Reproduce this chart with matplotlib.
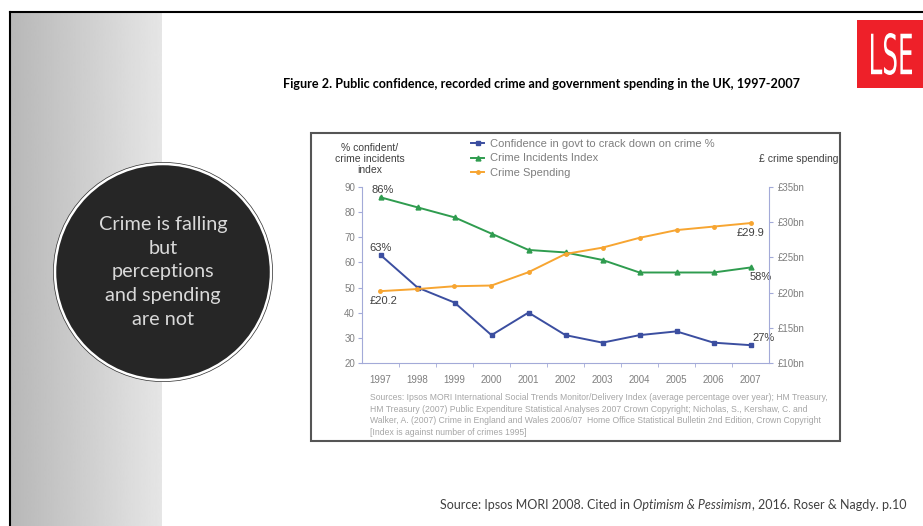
import matplotlib.pyplot as plt
import numpy as np
from matplotlib.patches import Rectangle, Circle, PathPatch
from matplotlib.textpath import TextPath
from matplotlib.font_manager import FontProperties
from matplotlib.transforms import Affine2D

plt.rcParams['font.family'] = 'Liberation Sans'

# data
years = ['1997', '1998', '1999', '2000', '2001', '2002', '2003', '2004', '2005', '2006', '2007']
confidence = [63, 50, 44, 31, 40, 31, 28, 31, 32.5, 28, 27]
crime_index = [86, 82, 78, 71.5, 65, 64, 61, 56, 56, 56, 58]
spending = [20.2, 20.5, 20.9, 21.0, 22.9, 25.5, 26.4, 27.8, 28.9, 29.4, 29.9]
left_ticks = [20, 30, 40, 50, 60, 70, 80, 90]
right_ticks = [10, 15, 20, 25, 30, 35]
right_tick_labels = ['£10bn', '£15bn', '£20bn', '£25bn', '£30bn', '£35bn']
series_names = ['Confidence in govt to crack down on crime %', 'Crime Incidents Index', 'Crime Spending']

title = 'Figure 2. Public confidence, recorded crime and government spending in the UK, 1997-2007'
sources = ('Sources: Ipsos MORI International Social Trends Monitor/Delivery Index (average percentage over year); HM Treasury,\n'
           'HM Treasury (2007) Public Expenditure Statistical Analyses 2007 Crown Copyright; Nicholas, S., Kershaw, C. and\n'
           'Walker, A. (2007) Crime in England and Wales 2006/07  Home Office Statistical Bulletin 2nd Edition, Crown Copyright\n'
           '[Index is against number of crimes 1995]')

blue = '#3b4ea0'
green = '#2f9c4f'
orange = '#f7a531'
axis_col = '#a3aad8'
grey_txt = '#7f7f7f'
dark_txt = '#404040'

W, H = 923, 526
fig = plt.figure(figsize=(W / 100, H / 100), dpi=100)

# slide background, drawn in pixel coordinates
bg = fig.add_axes([0, 0, 1, 1])
grad = np.linspace(0.72, 0.90, 256).reshape(1, -1)
bg.imshow(grad, cmap='gray', vmin=0, vmax=1, extent=[11, 162, H, 13], aspect='auto')
bg.plot([10, W], [12, 12], color='black', lw=1.5)
bg.plot([10, 10], [12, H], color='black', lw=1.5)

# round callout
bg.add_patch(Circle((163, 272), 110, facecolor='#3a3a3a', edgecolor='none'))
bg.add_patch(Circle((163, 272), 108, facecolor='#262626', edgecolor='white', lw=1.8))
bg.text(163, 272, 'Crime is falling\nbut\nperceptions\nand spending\nare not', ha='center', va='center',
        color='#d9d9d9', fontsize=14.3, family='Lato', linespacing=1.47)

# LSE logo
bg.add_patch(Rectangle((857, 20), 66, 68, facecolor='#ee2029', edgecolor='none'))
tp = TextPath((0, 0), 'LSE', size=10, prop=FontProperties(family='DejaVu Sans'))
ext = tp.get_extents()
tr = Affine2D().translate(-ext.x0, -ext.y0).scale(41 / ext.width, -42 / ext.height).translate(871, 75)
bg.add_patch(PathPatch(tr.transform_path(tp), facecolor='white', edgecolor='none'))

bg.text(541, 84, title, ha='center', va='center', fontsize=9.1, fontweight='bold', family='Lato', color='black')

# source line with italic book title
renderer = fig.canvas.get_renderer()
xpos = 440
for part, style in [('Source: Ipsos MORI 2008. Cited in ', 'normal'),
                    ('Optimism & Pessimism', 'italic'),
                    (', 2016. Roser & Nagdy. p.10', 'normal')]:
    t = bg.text(xpos, 505, part, fontsize=9, family='Lato', style=style, color=dark_txt, va='center')
    xpos += t.get_window_extent(renderer).width

# chart frame
bg.add_patch(Rectangle((311, 133), 529, 308, facecolor='white', edgecolor='#555555', lw=1.5))
bg.text(370, 159, '% confident/\ncrime incidents\nindex', ha='center', va='center', fontsize=7.5,
        color=dark_txt, linespacing=1.1)
bg.text(799, 159, '£ crime spending', ha='center', va='center', fontsize=7.5, color=dark_txt)
bg.text(370, 393, sources, ha='left', va='top', fontsize=6.25, color='#a6a6a6', linespacing=1.39)

bg.set_xlim(0, W)
bg.set_ylim(H, 0)
bg.axis('off')

# the chart itself
ax = fig.add_axes([362 / W, 1 - 362.7 / H, (769 - 362) / W, (362.7 - 187.3) / H])
ax.patch.set_alpha(0)
x = np.arange(len(years))
l1, = ax.plot(x, confidence, color=blue, marker='s', ms=3.5, lw=1.4, label=series_names[0])
l2, = ax.plot(x, crime_index, color=green, marker='^', ms=3.5, lw=1.4, label=series_names[1])
ax2 = ax.twinx()
l3, = ax2.plot(x, spending, color=orange, marker='o', ms=2.5, lw=1.4, label=series_names[2])

ax.set_xlim(-0.5, 10.5)
ax.set_ylim(20, 90)
ax2.set_ylim(10, 35)

for s in ['top', 'right']:
    ax.spines[s].set_visible(False)
for s in ['left', 'bottom']:
    ax.spines[s].set_color(axis_col)
for s in ['top', 'left', 'bottom']:
    ax2.spines[s].set_visible(False)
ax2.spines['right'].set_color(axis_col)

ax.set_xticks(x, years)
ax.set_xticks(x[:-1] + 0.5, minor=True)
ax.tick_params(axis='x', which='major', length=0, labelsize=7, labelcolor=grey_txt, pad=9)
ax.tick_params(axis='x', which='minor', length=3, color=axis_col)
ax.set_yticks(left_ticks)
ax.tick_params(axis='y', length=3, color=axis_col, labelsize=7, labelcolor=grey_txt, pad=2)
ax2.set_yticks(right_ticks, right_tick_labels)
ax2.tick_params(axis='y', length=3, color=axis_col, labelsize=7, labelcolor=grey_txt, pad=3)

# value labels at the ends
kw = dict(textcoords='offset pixels', ha='center', va='center', fontsize=8, color=dark_txt)
ax.annotate('86%', (0, crime_index[0]), xytext=(2, 7), **kw)
ax.annotate('63%', (0, confidence[0]), xytext=(0, 7), **kw)
ax2.annotate('£20.2', (0, spending[0]), xytext=(3, -9.5), **kw)
ax2.annotate('£29.9', (10, spending[-1]), xytext=(0, -10), **kw)
ax.annotate('58%', (10, crime_index[-1]), xytext=(10, -10), **kw)
ax.annotate('27%', (10, confidence[-1]), xytext=(13, 7), **kw)

fig.legend([l1, l2, l3], series_names, loc='upper left', bbox_to_anchor=(471 / W, 1 - 139 / H),
           frameon=False, fontsize=8, labelcolor=grey_txt, handlelength=1.2, handletextpad=0.55,
           labelspacing=0.4, borderpad=0, borderaxespad=0)

fig.savefig('out.png', dpi=100)
